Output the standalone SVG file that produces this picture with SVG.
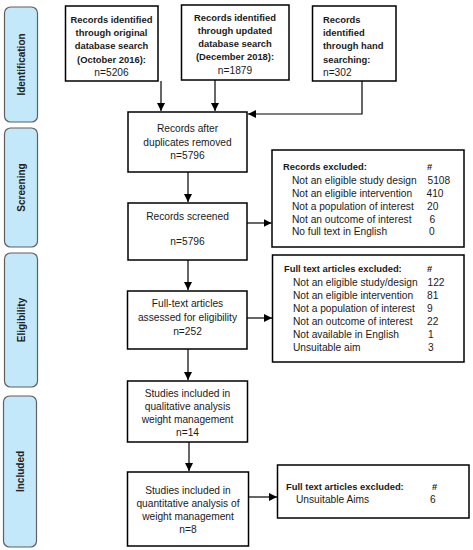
<svg xmlns="http://www.w3.org/2000/svg" width="473" height="550" viewBox="0 0 473 550">
<defs>
<marker id="ah" viewBox="0 0 10 10" refX="10" refY="5" markerWidth="8" markerHeight="8" markerUnits="userSpaceOnUse" orient="auto">
<path d="M0,0 L10,5 L0,10 z" fill="#000"/>
</marker>
<style>
.box{fill:#fff;stroke:#000;stroke-width:1.5}
.lab{fill:#C3E8FA;stroke:#5f5f5f;stroke-width:1.2}
.t{font-family:"Liberation Sans",Arial,sans-serif;font-size:10.2px;fill:#1a1a1a}
.b{font-family:"Liberation Sans",Arial,sans-serif;font-size:9.4px;font-weight:bold;fill:#1a1a1a}
.c{text-anchor:middle}
.sl{font-family:"Liberation Sans",Arial,sans-serif;font-size:10px;font-weight:bold;fill:#222;text-anchor:middle}
.ln{fill:none;stroke:#000;stroke-width:1.2}
</style>
</defs>
<rect width="473" height="550" fill="#fff"/>

<g id="label-identification">
<rect class="lab" x="4.5" y="7" width="33" height="115" rx="6"/>
<text class="sl" transform="translate(24.5,64.5) rotate(-90)">Identification</text>
</g>
<g id="label-screening">
<rect class="lab" x="4.5" y="128" width="33" height="119" rx="6"/>
<text class="sl" transform="translate(24.5,187.5) rotate(-90)">Screening</text>
</g>
<g id="label-eligibility">
<rect class="lab" x="4.5" y="253" width="33" height="134" rx="6"/>
<text class="sl" transform="translate(24.5,320) rotate(-90)">Eligibility</text>
</g>
<g id="label-included">
<rect class="lab" x="3.5" y="396" width="33" height="151" rx="6"/>
<text class="sl" transform="translate(23.5,471.5) rotate(-90)">Included</text>
</g>

<g id="box-original">
<rect class="box" x="65.5" y="6" width="92.5" height="75"/>
<text class="b c" x="111.5" y="22.5">Records identified</text>
<text class="b c" x="111.5" y="35.5">through original</text>
<text class="b c" x="111.5" y="49">database search</text>
<text class="b c" x="111.5" y="62.5">(October 2016):</text>
<text class="t c" x="111.5" y="75.5">n=5206</text>
</g>
<g id="box-updated">
<rect class="box" x="181.5" y="5" width="107.5" height="75"/>
<text class="b c" x="235" y="20.5">Records identified</text>
<text class="b c" x="235" y="33.5">through updated</text>
<text class="b c" x="235" y="46.5">database search</text>
<text class="b c" x="235" y="60">(December 2018):</text>
<text class="t c" x="235" y="73.5">n=1879</text>
</g>
<g id="box-hand">
<rect class="box" x="312.5" y="6" width="83.5" height="75"/>
<text class="b" x="323" y="22.5">Records</text>
<text class="b" x="323" y="35.5">identified</text>
<text class="b" x="323" y="49">through hand</text>
<text class="b" x="323" y="62.5">searching:</text>
<text class="t" x="323" y="75.5">n=302</text>
</g>

<g id="box-duplicates">
<rect class="box" x="128" y="112" width="119" height="60"/>
<text class="t c" x="187.5" y="131.5">Records after</text>
<text class="t c" x="187.5" y="145.5">duplicates removed</text>
<text class="t c" x="187.5" y="158.5">n=5796</text>
</g>
<g id="box-screened">
<rect class="box" x="128" y="203" width="119" height="57"/>
<text class="t c" x="187.5" y="219.5">Records screened</text>
<text class="t c" x="187.5" y="244.5">n=5796</text>
</g>
<g id="box-records-excluded">
<rect class="box" x="272" y="150" width="192" height="97"/>
<text class="b" x="283" y="169.5">Records excluded:</text>
<text class="b" x="427" y="169.5">#</text>
<text class="t" x="292" y="183.5">Not an eligible study design</text>
<text class="t" x="427.5" y="183.5">5108</text>
<text class="t" x="292" y="196.5">Not an eligible intervention</text>
<text class="t" x="426.5" y="196.5">410</text>
<text class="t" x="292" y="209.5">Not a population of interest</text>
<text class="t" x="427" y="209.5">20</text>
<text class="t" x="292" y="222.5">Not an outcome of interest</text>
<text class="t" x="429.5" y="222.5">6</text>
<text class="t" x="292" y="235">No full text in English</text>
<text class="t" x="429" y="235">0</text>
</g>
<g id="box-assessed">
<rect class="box" x="127.5" y="291" width="119.5" height="58"/>
<text class="t c" x="187.5" y="306.5">Full-text articles</text>
<text class="t c" x="187.5" y="320.5">assessed for eligibility</text>
<text class="t c" x="187.5" y="334.5">n=252</text>
</g>
<g id="box-fulltext-excluded">
<rect class="box" x="272.5" y="255" width="191.5" height="107"/>
<text class="b" x="284" y="271.5">Full text articles excluded:</text>
<text class="b" x="427" y="271.5">#</text>
<text class="t" x="293" y="285.5">Not an eligible study/design</text>
<text class="t" x="427.5" y="285.5">122</text>
<text class="t" x="293" y="299">Not an eligible intervention</text>
<text class="t" x="427" y="299">81</text>
<text class="t" x="293" y="312">Not a population of interest</text>
<text class="t" x="427" y="312">9</text>
<text class="t" x="293" y="325">Not an outcome of interest</text>
<text class="t" x="427" y="325">22</text>
<text class="t" x="293" y="338">Not available in English</text>
<text class="t" x="428" y="338">1</text>
<text class="t" x="293" y="351">Unsuitable aim</text>
<text class="t" x="428" y="351">3</text>
</g>
<g id="box-qualitative">
<rect class="box" x="127.5" y="381" width="120" height="61"/>
<text class="t c" x="187.5" y="396.5">Studies included in</text>
<text class="t c" x="187.5" y="409.5">qualitative analysis</text>
<text class="t c" x="187.5" y="422.5">weight management</text>
<text class="t c" x="187.5" y="435.5">n=14</text>
</g>
<g id="box-quantitative">
<rect class="box" x="127.5" y="472" width="121" height="74"/>
<text class="t c" x="188" y="493.5">Studies included in</text>
<text class="t c" x="188" y="506.5">quantitative analysis of</text>
<text class="t c" x="188" y="519.5">weight management</text>
<text class="t c" x="188" y="532.5">n=8</text>
</g>
<g id="box-aims-excluded">
<rect class="box" x="277.5" y="465" width="191.5" height="53"/>
<text class="b" x="286" y="489.5">Full text articles excluded:</text>
<text class="b" x="432" y="489.5">#</text>
<text class="t" x="296" y="502.5">Unsuitable Aims</text>
<text class="t" x="430" y="502.5">6</text>
</g>

<g id="connectors">
<line class="ln" x1="161" y1="81" x2="161" y2="111" marker-end="url(#ah)"/>
<line class="ln" x1="215" y1="80" x2="215" y2="111" marker-end="url(#ah)"/>
<polyline class="ln" points="362,81 362,114 248,114" marker-end="url(#ah)"/>
<line class="ln" x1="188" y1="172" x2="188" y2="202" marker-end="url(#ah)"/>
<line class="ln" x1="247" y1="223" x2="271.5" y2="223" marker-end="url(#ah)"/>
<line class="ln" x1="188" y1="260" x2="188" y2="290" marker-end="url(#ah)"/>
<line class="ln" x1="247" y1="318" x2="272" y2="318" marker-end="url(#ah)"/>
<line class="ln" x1="188" y1="349" x2="188" y2="380" marker-end="url(#ah)"/>
<line class="ln" x1="189" y1="442" x2="189" y2="471" marker-end="url(#ah)"/>
<line class="ln" x1="249" y1="497" x2="277" y2="497" marker-end="url(#ah)"/>
</g>
</svg>
